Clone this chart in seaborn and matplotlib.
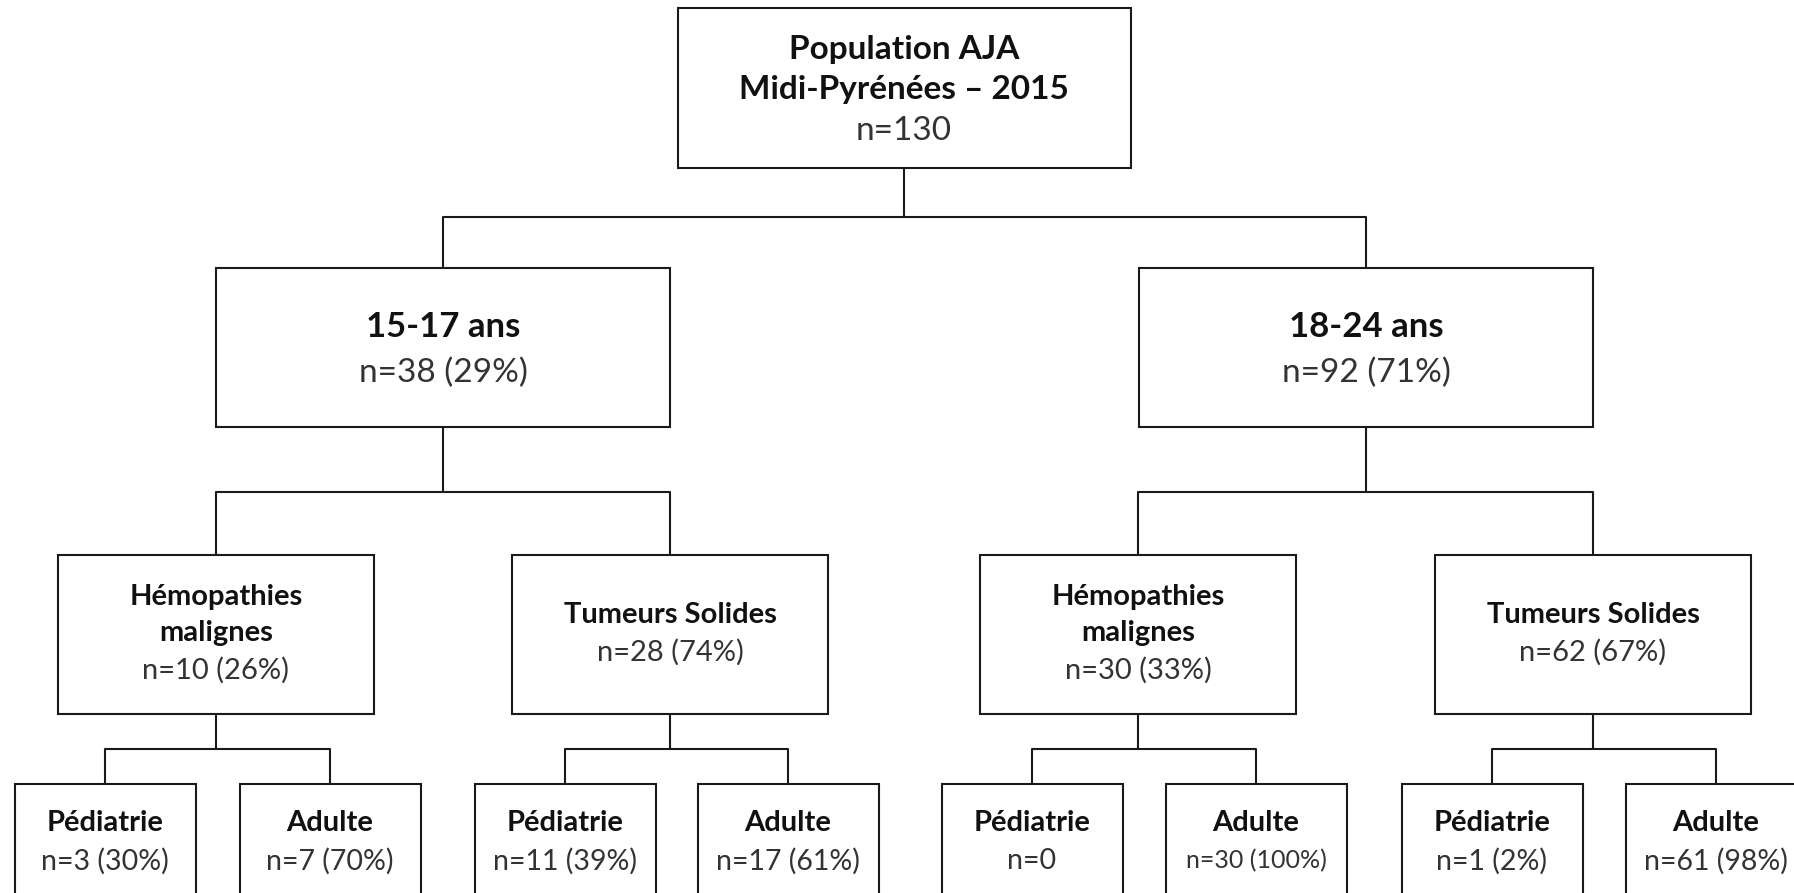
import matplotlib
matplotlib.use("Agg")
import matplotlib.pyplot as plt
from matplotlib.patches import Rectangle
import seaborn as sns

# --------------------------------------------------------
# Flowchart: AJA population Midi-Pyrénées 2015
# --------------------------------------------------------

# Data
root_title = ["Population AJA", "Midi-Pyrénées – 2015"]
root_n = 130

age_groups = ["15-17 ans", "18-24 ans"]
age_n = [38, 92]
age_pct = [29, 71]

cancer_types = [["Hémopathies", "malignes"], ["Tumeurs Solides"],
                ["Hémopathies", "malignes"], ["Tumeurs Solides"]]
cancer_n = [10, 28, 30, 62]
cancer_pct = [26, 74, 33, 67]

care_types = ["Pédiatrie", "Adulte"] * 4
care_n = [3, 7, 11, 17, 0, 30, 1, 61]
care_pct = [30, 70, 39, 61, None, 100, 2, 98]

# Layout (pixel space of a 1794 x 893 canvas, y downwards)
W, H = 1794, 893
root_x = 904
age_x = [443, 1366]
cancer_x = [216, 670, 1138, 1593]
care_x = [105, 330, 565, 788, 1032, 1256, 1492, 1716]

root_box = (453, 8, 168)        # width, top, bottom
age_box = (454, 268, 427)
cancer_box = (316, 555, 714)
care_box = (181, 784, 910)

bus_y = [217, 492, 749]

sns.set_theme(style="white")
plt.rcParams["font.family"] = ["Lato", "DejaVu Sans"]

fig = plt.figure(figsize=(W / 100, H / 100), dpi=100)
ax = fig.add_axes([0, 0, 1, 1])
ax.set_xlim(0, W)
ax.set_ylim(H, 0)
ax.axis("off")

EDGE = "#1a1a1a"
LW = 1.5
BOLD_C = "#111111"
NORM_C = "#333333"


def box(cx, spec):
    w, top, bottom = spec
    ax.add_patch(Rectangle((cx - w / 2, top), w, bottom - top, facecolor="white",
                           edgecolor=EDGE, lw=LW, zorder=2))


def connect(px, parent_bottom, bus, child_xs, child_top):
    ax.plot([px, px], [parent_bottom, bus], color=EDGE, lw=LW, zorder=1)
    ax.plot([min(child_xs), max(child_xs)], [bus, bus], color=EDGE, lw=LW,
            zorder=1, solid_capstyle="butt")
    for cx in child_xs:
        ax.plot([cx, cx], [bus, child_top], color=EDGE, lw=LW, zorder=1)


# connectors
connect(root_x, root_box[2], bus_y[0], age_x, age_box[1])
for i, px in enumerate(age_x):
    connect(px, age_box[2], bus_y[1], cancer_x[2 * i:2 * i + 2], cancer_box[1])
for i, px in enumerate(cancer_x):
    connect(px, cancer_box[2], bus_y[2], care_x[2 * i:2 * i + 2], care_box[1])

# root
box(root_x, root_box)
ax.text(root_x, 49, root_title[0], ha="center", va="center", fontsize=24,
        fontweight="bold", color=BOLD_C, zorder=3)
ax.text(root_x, 89, root_title[1], ha="center", va="center", fontsize=24,
        fontweight="bold", color=BOLD_C, zorder=3)
ax.text(root_x, 131, f"n={root_n}", ha="center", va="center", fontsize=24,
        color=NORM_C, zorder=3)

# age groups
for x, lab, n, p in zip(age_x, age_groups, age_n, age_pct):
    box(x, age_box)
    ax.text(x, 327, lab, ha="center", va="center", fontsize=25,
            fontweight="bold", color=BOLD_C, zorder=3)
    ax.text(x, 373, f"n={n} ({p}%)", ha="center", va="center", fontsize=24,
            color=NORM_C, zorder=3)

# cancer types
for x, lab, n, p in zip(cancer_x, cancer_types, cancer_n, cancer_pct):
    box(x, cancer_box)
    if len(lab) == 2:
        ys = [597, 633]
        ny = 670
    else:
        ys = [615]
        ny = 652
    for line, y in zip(lab, ys):
        ax.text(x, y, line, ha="center", va="center", fontsize=21,
                fontweight="bold", color=BOLD_C, zorder=3)
    ax.text(x, ny, f"n={n} ({p}%)", ha="center", va="center", fontsize=21,
            color=NORM_C, zorder=3)

# care settings
for x, lab, n, p in zip(care_x, care_types, care_n, care_pct):
    box(x, care_box)
    ax.text(x, 823, lab, ha="center", va="center", fontsize=21,
            fontweight="bold", color=BOLD_C, zorder=3)
    txt = f"n={n}" if p is None else f"n={n} ({p}%)"
    fs = 18 if p == 100 else 20.5
    ax.text(x, 861, txt, ha="center", va="center", fontsize=fs,
            color=NORM_C, zorder=3)

fig.savefig("out.png", dpi=100, facecolor="white")
